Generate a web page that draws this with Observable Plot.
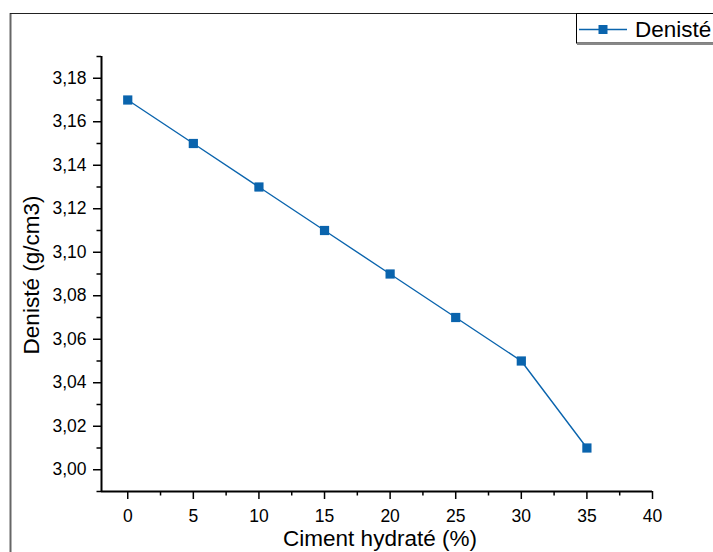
<!DOCTYPE html>
<html><head><meta charset="utf-8">
<script src="https://cdn.jsdelivr.net/npm/d3@7"></script>
<script src="https://cdn.jsdelivr.net/npm/@observablehq/plot@0.6"></script>
<style>body{margin:0;background:#fff;overflow:hidden}svg{display:block}</style>
</head><body><div id="chart"></div>
<script>
const cimentPct = [0, 5, 10, 15, 20, 25, 30, 35];
const densite = [3.17, 3.15, 3.13, 3.11, 3.09, 3.07, 3.05, 3.01];
const xMajorTicks = [0, 5, 10, 15, 20, 25, 30, 35, 40];
const xMinorTicks = [2.5, 7.5, 12.5, 17.5, 22.5, 27.5, 32.5, 37.5];
const yMajorTicks = [3.00, 3.02, 3.04, 3.06, 3.08, 3.10, 3.12, 3.14, 3.16, 3.18];
const yMinorTicks = [2.99, 3.01, 3.03, 3.05, 3.07, 3.09, 3.11, 3.13, 3.15, 3.17, 3.19];
const seriesName = "Denisté";
const xLabel = "Ciment hydraté (%)";
const yLabel = "Denisté (g/cm3)";

const data = cimentPct.map((x, i) => ({x, y: densite[i]}));
const color = "#0a64ad";
const font = "'Liberation Sans', Arial, sans-serif";
const fmt = d => d.toFixed(2).replace(".", ",");

const plot = Plot.plot({
  width: 713, height: 552,
  marginLeft: 101, marginRight: 61, marginTop: 56, marginBottom: 61,
  style: {fontFamily: font, fontSize: "17px", color: "#000", background: "#fff"},
  x: {domain: [-2, 40]},
  y: {domain: [2.99, 3.19]},
  marks: [
    Plot.axisX({ticks: xMinorTicks, tickSize: 4.5, text: null, label: null, stroke: "#000", strokeOpacity: 1, strokeWidth: 1.5}),
    Plot.axisX({ticks: xMajorTicks, tickSize: 8, tickPadding: 10, label: null, stroke: "#000", strokeOpacity: 1, strokeWidth: 1.5, fill: "#000", fontSize: 17.5}),
    Plot.axisY({ticks: yMinorTicks, tickSize: 4.5, text: null, label: null, stroke: "#000", strokeOpacity: 1, strokeWidth: 1.5}),
    Plot.axisY({ticks: yMajorTicks, tickSize: 8, tickPadding: 7, tickFormat: fmt, label: null, stroke: "#000", strokeOpacity: 1, strokeWidth: 1.5, fill: "#000", fontSize: 17.5}),
    Plot.ruleY([2.99], {stroke: "#000", strokeWidth: 2}),
    Plot.ruleX([-2], {stroke: "#000", strokeWidth: 2}),
    Plot.line(data, {x: "x", y: "y", stroke: color, strokeWidth: 1.4}),
    Plot.dot(data, {x: "x", y: "y", symbol: "square", r: 5.2, fill: color, stroke: null})
  ]
});

const svg = d3.select(plot);
// outer frame
svg.append("line").attr("x1", 10.5).attr("x2", 10.5).attr("y1", 13).attr("y2", 552).attr("stroke", "#666").attr("stroke-width", 2);
svg.append("line").attr("x1", 10).attr("x2", 713).attr("y1", 13.5).attr("y2", 13.5).attr("stroke", "#222").attr("stroke-width", 1);
// axis titles
svg.append("text").attr("x", 380).attr("y", 546).attr("text-anchor", "middle")
  .attr("font-family", font).attr("font-size", 22.5).attr("fill", "#000").text(xLabel);
svg.append("text").attr("transform", "translate(38.5,275) rotate(-90)").attr("text-anchor", "middle")
  .attr("font-family", font).attr("font-size", 22.5).attr("fill", "#000").text(yLabel);
// legend
const lg = svg.append("g");
lg.append("rect").attr("x", 576.5).attr("y", 13.5).attr("width", 150).attr("height", 29.5).attr("fill", "#fff").attr("stroke", "#000").attr("stroke-width", 1);
lg.append("line").attr("x1", 577).attr("x2", 713).attr("y1", 44).attr("y2", 44).attr("stroke", "#888").attr("stroke-width", 2);
lg.append("line").attr("x1", 579).attr("x2", 627).attr("y1", 29.5).attr("y2", 29.5).attr("stroke", color).attr("stroke-width", 1.6);
lg.append("rect").attr("x", 598.5).attr("y", 25).attr("width", 9).attr("height", 9).attr("fill", color);
lg.append("text").attr("x", 635).attr("y", 36.7).attr("text-anchor", "start").attr("font-family", font).attr("font-size", 22.5).attr("fill", "#000").text(seriesName);

document.getElementById("chart").appendChild(plot);
</script></body></html>
